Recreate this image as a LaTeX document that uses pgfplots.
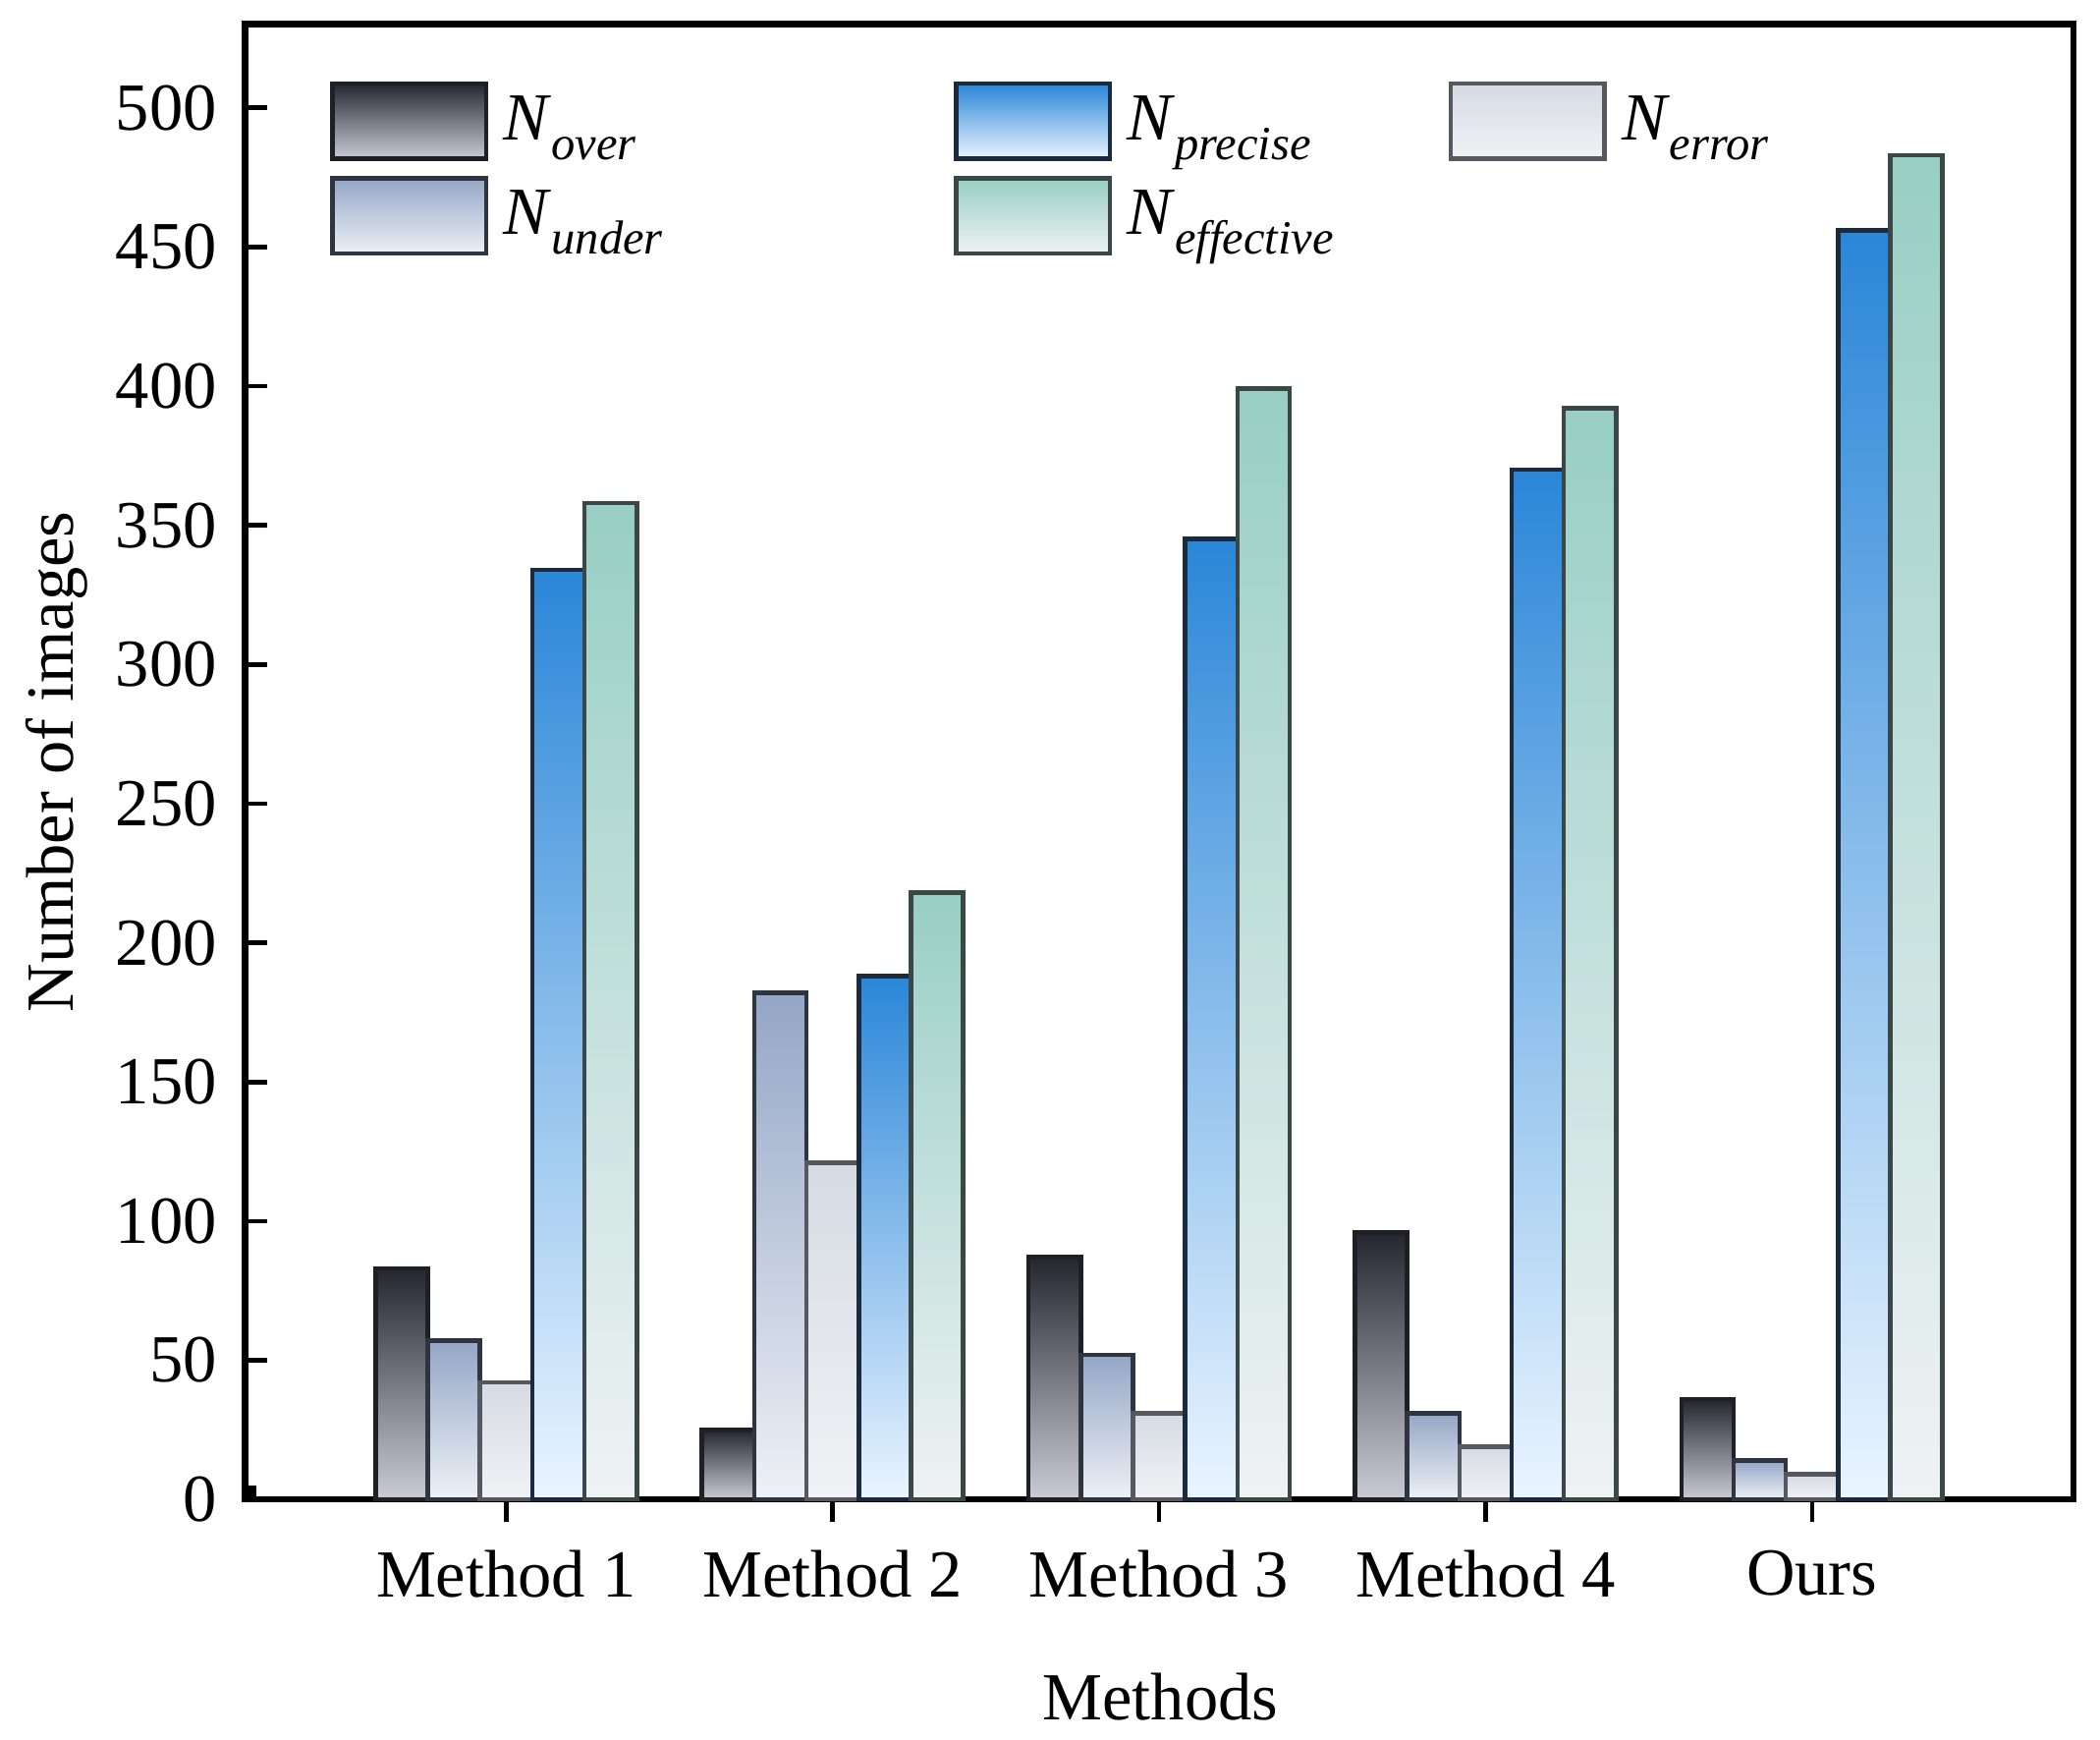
\documentclass[border=0pt]{standalone}
\usepackage{fontspec}
\setmainfont{Liberation Serif}
\usepackage{pgfplots}
\pgfplotsset{compat=1.18}

\definecolor{ovTop}{HTML}{25272F}\definecolor{ovBot}{HTML}{CBCBD6}\definecolor{ovDraw}{HTML}{1E2026}
\definecolor{unTop}{HTML}{94A6C6}\definecolor{unBot}{HTML}{EEF1F6}\definecolor{unDraw}{HTML}{2E3440}
\definecolor{erTop}{HTML}{D6DBE3}\definecolor{erBot}{HTML}{F0F2F5}\definecolor{erDraw}{HTML}{55595F}
\definecolor{prTop}{HTML}{2A86D8}\definecolor{prBot}{HTML}{EAF5FF}\definecolor{prDraw}{HTML}{1A2B40}
\definecolor{efTop}{HTML}{98CFC3}\definecolor{efBot}{HTML}{EFF2F5}\definecolor{efDraw}{HTML}{3B4747}

\newcommand{\Nsub}[1]{\hspace{1.2pt}\textit{N}\raisebox{-3.5pt}{\fontsize{8.5}{9}\selectfont\itshape #1}}

\pgfplotsset{
  ovS/.style={ybar, forget plot, bar width=0.16, bar shift=-0.32, draw=ovDraw, top color=ovTop, bottom color=ovBot},
  unS/.style={ybar, forget plot, bar width=0.16, bar shift=-0.16, draw=unDraw, top color=unTop, bottom color=unBot},
  erS/.style={ybar, forget plot, bar width=0.16, bar shift=0, draw=erDraw, top color=erTop, bottom color=erBot},
  prS/.style={ybar, forget plot, bar width=0.16, bar shift=0.16, draw=prDraw, top color=prTop, bottom color=prBot},
  efS/.style={ybar, forget plot, bar width=0.16, bar shift=0.32, draw=efDraw, top color=efTop, bottom color=efBot},
}

\begin{document}
\begin{tikzpicture}
\begin{axis}[
  scale only axis, width=326pt, height=263pt,
  xmin=-0.8, xmax=4.8, ymin=0, ymax=530,
  xtick={0,1,2,3,4},
  xticklabels={Method 1,Method 2,Method 3,Method 4,Ours},
  ytick={0,50,...,500},
  xtick pos=bottom, ytick pos=left,
  xtick align=outside, ytick align=inside,
  major tick length=4pt,
  tick style={black, line width=0.8pt},
  axis line style={black, line width=1.1pt},
  tick label style={font=\fontsize{12}{14}\selectfont},
  /pgf/number format/assume math mode=true,
  yticklabel style={xshift=-1.5pt},
  xticklabel style={yshift=-1.5pt},
  xlabel={Methods}, ylabel={Number of images},
  label style={font=\fontsize{12}{14}\selectfont},
  xlabel style={at={(axis description cs:0.5007,-0.134)}, anchor=center},
  ylabel style={at={(axis description cs:-0.103,0.5)}, anchor=center},
  clip=false,
  legend columns=3,
  legend cell align=left,
  legend style={at={(axis description cs:0.046,0.962)}, anchor=north west,
    draw=none, fill=none, inner sep=0pt, column sep=0pt, row sep=2.7pt,
    nodes={inner sep=1.5pt}, font=\fontsize{12}{14}\selectfont},
  legend image code/.code={\draw[#1] (0pt,-6.6pt) rectangle (27.4pt,6.8pt);},
  every axis plot/.append style={line width=0.8pt},
]
% invisible frame matching the reference page
\path (axis description cs:-0.134,-0.155) rectangle (axis description cs:1.0147,1.0164);

% N_over
\addplot[ovS] coordinates {(0,83)};
\addplot[ovS] coordinates {(1,25)};
\addplot[ovS] coordinates {(2,87)};
\addplot[ovS] coordinates {(3,96)};
\addplot[ovS] coordinates {(4,36)};
% N_under
\addplot[unS] coordinates {(0,57)};
\addplot[unS] coordinates {(1,182)};
\addplot[unS] coordinates {(2,52)};
\addplot[unS] coordinates {(3,31)};
\addplot[unS] coordinates {(4,14)};
% N_error
\addplot[erS] coordinates {(0,42)};
\addplot[erS] coordinates {(1,121)};
\addplot[erS] coordinates {(2,31)};
\addplot[erS] coordinates {(3,19)};
\addplot[erS] coordinates {(4,9)};
% N_precise
\addplot[prS] coordinates {(0,334)};
\addplot[prS] coordinates {(1,188)};
\addplot[prS] coordinates {(2,345)};
\addplot[prS] coordinates {(3,370)};
\addplot[prS] coordinates {(4,456)};
% N_effective
\addplot[efS] coordinates {(0,358)};
\addplot[efS] coordinates {(1,218)};
\addplot[efS] coordinates {(2,399)};
\addplot[efS] coordinates {(3,392)};
\addplot[efS] coordinates {(4,483)};
% small dark mark at the origin
\addplot[ybar, forget plot, bar width=0.033, bar shift=0, draw=black, fill=black, line width=0pt]
  coordinates {(-0.7835,5)};

\addlegendimage{draw=ovDraw, top color=ovTop, bottom color=ovBot, line width=0.8pt}
\addlegendentry{\makebox[80pt][l]{\Nsub{over}}}
\addlegendimage{draw=prDraw, top color=prTop, bottom color=prBot, line width=0.8pt}
\addlegendentry{\makebox[57pt][l]{\Nsub{precise}}}
\addlegendimage{draw=erDraw, top color=erTop, bottom color=erBot, line width=0.8pt}
\addlegendentry{\Nsub{error}}
\addlegendimage{draw=unDraw, top color=unTop, bottom color=unBot, line width=0.8pt}
\addlegendentry{\makebox[80pt][l]{\Nsub{under}}}
\addlegendimage{draw=efDraw, top color=efTop, bottom color=efBot, line width=0.8pt}
\addlegendentry{\makebox[57pt][l]{\Nsub{effective}}}
\end{axis}
\end{tikzpicture}
\end{document}
